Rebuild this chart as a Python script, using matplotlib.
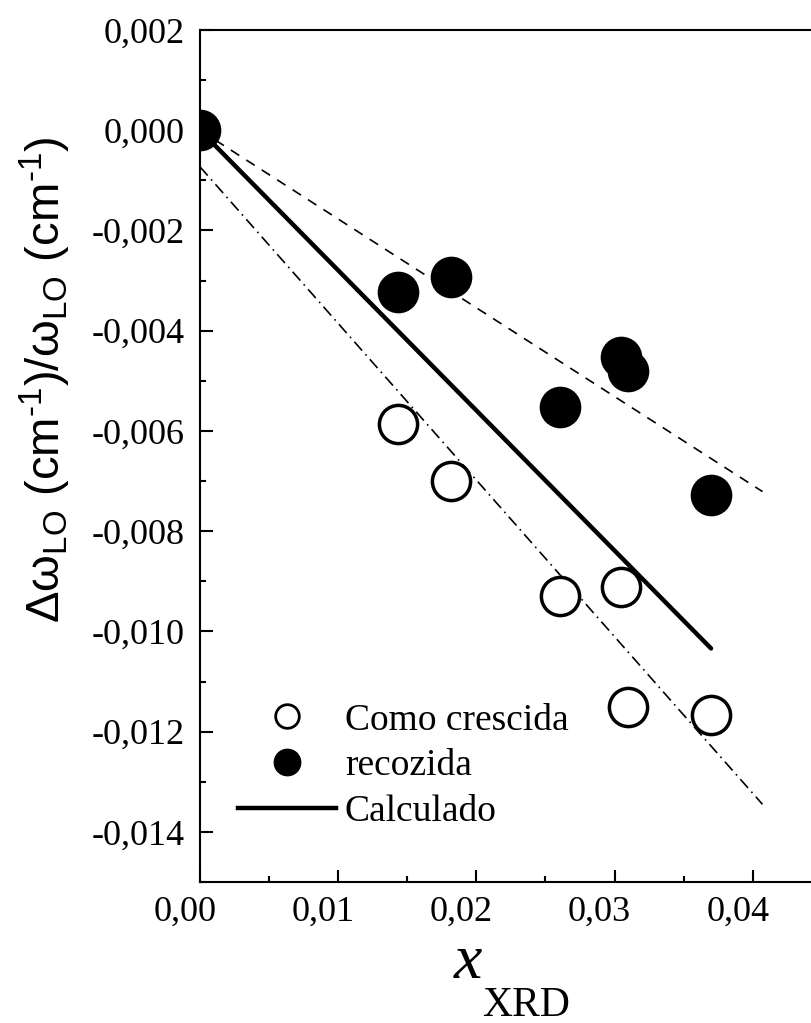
import matplotlib
matplotlib.use('Agg')
import matplotlib.pyplot as plt
import matplotlib.transforms as mtransforms
from matplotlib.lines import Line2D
from matplotlib.ticker import MultipleLocator, FuncFormatter

plt.rcParams['mathtext.fontset'] = 'custom'
plt.rcParams['mathtext.rm'] = 'Liberation Sans'
plt.rcParams['mathtext.it'] = 'Liberation Sans:italic'

# Data
x_open = [0.01435, 0.01814, 0.02605, 0.03046, 0.03097, 0.03698]
y_open = [-0.00587, -0.00699, -0.00930, -0.00912, -0.01151, -0.01166]

x_filled = [0.0, 0.01435, 0.01814, 0.02605, 0.03046, 0.03097, 0.03698]
y_filled = [0.0, -0.00323, -0.00293, -0.00552, -0.00453, -0.00480, -0.00727]

x_calc = [0.0, 0.03698]
y_calc = [0.0, -0.01034]

x_fit_filled = [0.0, 0.0407]
y_fit_filled = [0.0, -0.00721]

x_fit_open = [0.0, 0.0407]
y_fit_open = [-0.00073, -0.01345]

fig = plt.figure(figsize=(8.12, 10.23), dpi=100)
ax = fig.add_axes([200/812, 1 - 882/1023, 621.9/812, 852/1023])

ax.plot(x_fit_filled, y_fit_filled, color='black', lw=1.2, ls=(0, (6, 5)))
ax.plot(x_fit_open, y_fit_open, color='black', lw=1.2, ls=(0, (7, 3, 1, 3)))
ax.plot(x_calc, y_calc, color='black', lw=3.2, solid_capstyle='round')
ax.plot(x_open, y_open, 'o', ms=27.5, mfc='white', mec='black', mew=2.5)
ax.plot(x_filled, y_filled, 'o', ms=30, mfc='black', mec='black', mew=0)

ax.set_xlim(0, 0.045)
ax.set_ylim(-0.015, 0.002)

ax.xaxis.set_major_locator(MultipleLocator(0.01))
ax.xaxis.set_minor_locator(MultipleLocator(0.005))
ax.yaxis.set_major_locator(MultipleLocator(0.002))
ax.yaxis.set_minor_locator(MultipleLocator(0.001))


def fmt_x(v, pos):
    if abs(v) < 1e-12:
        v = 0.0
    return f"{v:.2f}".replace('.', ',')


def fmt_y(v, pos):
    if abs(v) < 1e-12:
        v = 0.0
    return f"{v:.3f}".replace('.', ',')


ax.xaxis.set_major_formatter(FuncFormatter(fmt_x))
ax.yaxis.set_major_formatter(FuncFormatter(fmt_y))

ax.tick_params(which='both', direction='in', width=1.5, top=False, right=False)
ax.tick_params(which='major', length=9)
ax.tick_params(which='minor', length=4.5)
ax.tick_params(axis='x', pad=10)
ax.tick_params(axis='y', pad=11)
for lab in ax.get_xticklabels() + ax.get_yticklabels():
    lab.set_fontfamily('Liberation Serif')
    lab.set_fontsize(26)

# Origin places the x labels slightly left of their ticks
shift = mtransforms.ScaledTranslation(-15/100, 0, fig.dpi_scale_trans)
for lab in ax.get_xticklabels():
    lab.set_transform(lab.get_transform() + shift)

for s in ['left', 'bottom', 'top']:
    ax.spines[s].set_linewidth(1.5)
ax.spines['right'].set_visible(False)

handles = [
    Line2D([], [], ls='none', marker='o', ms=17, mfc='white', mec='black', mew=2),
    Line2D([], [], ls='none', marker='o', ms=19, mfc='black', mec='black'),
    Line2D([], [], color='black', lw=3.2),
]
ax.legend(handles, ['Como crescida', 'recozida', 'Calculado'],
          loc='upper left', bbox_to_anchor=(23/621.9, 1 - 658/852),
          frameon=False, handlelength=2.6, handletextpad=0.25,
          labelspacing=0.3, borderaxespad=0,
          prop={'family': 'Liberation Serif', 'size': 27})

fig.text(45/812, 1 - 380/1023,
         'Δω$_{\\rm LO}$ (cm$^{\\text{-1}}$)/ω$_{\\rm LO}$ (cm$^{\\text{-1}}$)',
         rotation=90, ha='center', va='center',
         family='Liberation Sans', fontsize=34)

fig.text(468/812, 1 - 978/1023, 'x', ha='center', va='baseline',
         family='Liberation Serif', style='italic', fontsize=46)
fig.text(482/812, 1 - 1016/1023, 'XRD', ha='left', va='baseline',
         family='Liberation Serif', fontsize=30)

fig.savefig('out.png', dpi=100)
